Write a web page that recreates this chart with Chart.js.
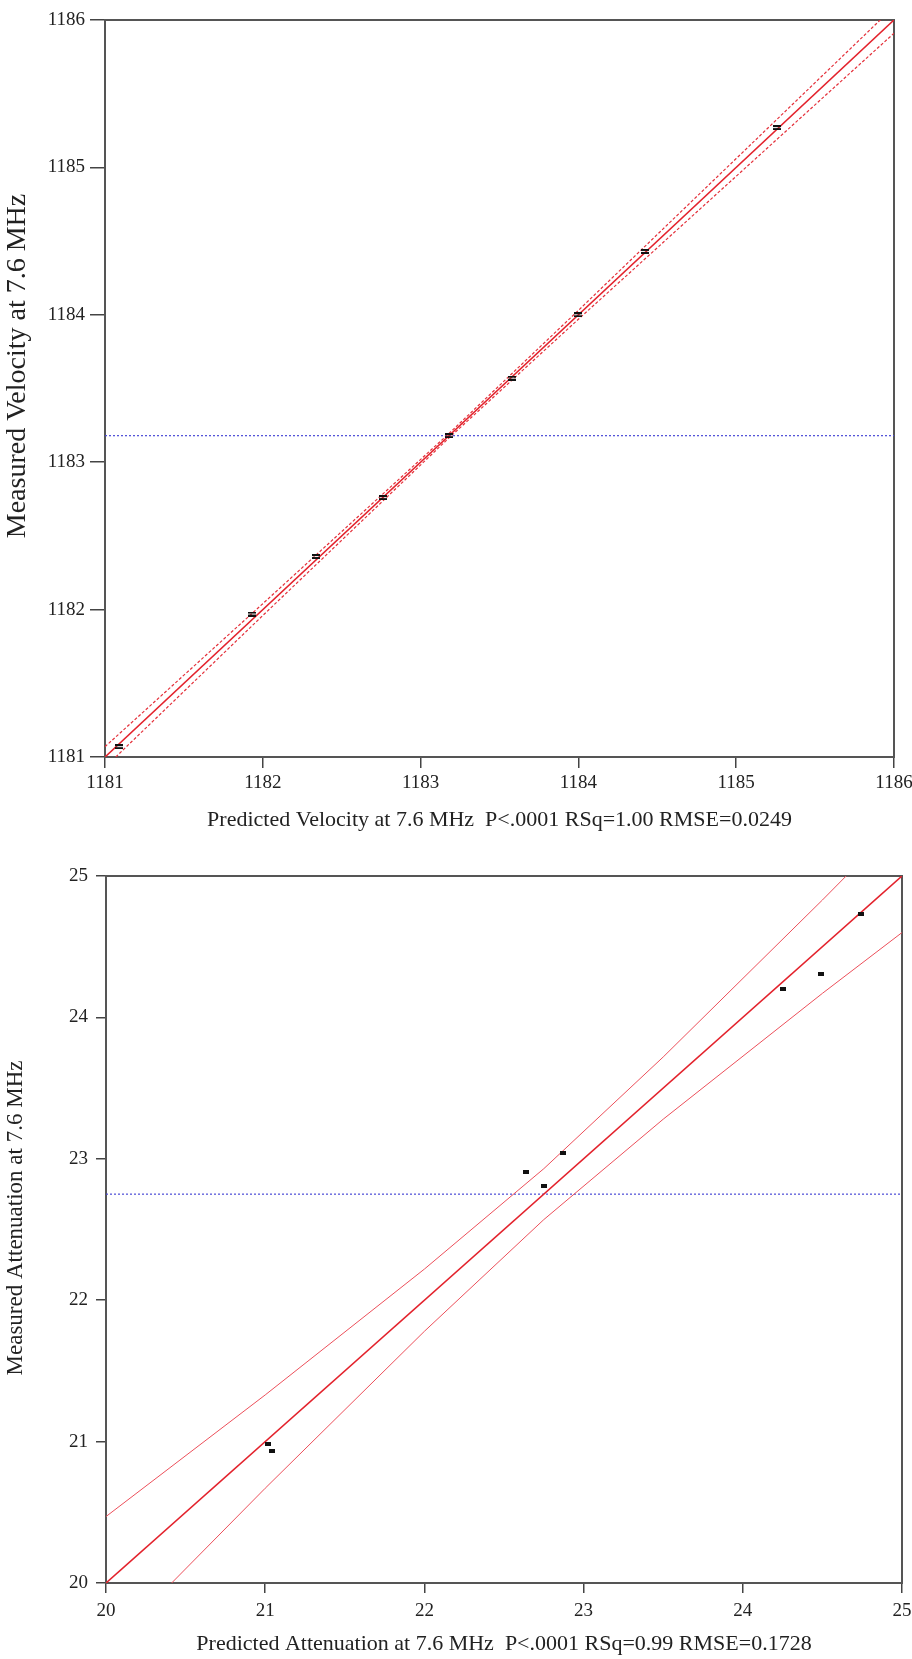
<!DOCTYPE html>
<html>
<head>
<meta charset="utf-8">
<script src="https://cdn.jsdelivr.net/npm/chart.js@4.4.1/dist/chart.umd.min.js"></script>
<style>
  html, body { margin: 0; padding: 0; background: #fff; }
  body { width: 912px; height: 1659px; overflow: hidden; position: relative; }
  .box { position: absolute; left: 0; width: 912px; }
  #velBox { top: 0; height: 845px; }
  #attBox { top: 845px; height: 814px; }
</style>
</head>
<body>
<div class="box" id="velBox"><canvas id="velocityChart"></canvas></div>
<div class="box" id="attBox"><canvas id="attenuationChart"></canvas></div>
<script>
// ---- top plot: velocity ----
const velTicks = [1181, 1182, 1183, 1184, 1185, 1186];
const velPredicted = [1181.09, 1181.93, 1182.34, 1182.76, 1183.18, 1183.58, 1184.00, 1184.42, 1185.26];
const velMeasured  = [1181.07, 1181.97, 1182.36, 1182.76, 1183.18, 1183.57, 1184.00, 1184.43, 1185.27];
const velFitX = [1181, 1186];
const velFitY = [1181, 1186];
const velBandX = [1181, 1182, 1183.18, 1184, 1185, 1186];
const velUpper = [1181.07, 1182.04, 1183.195, 1184.03, 1185.06, 1186.09];
const velLower = [1180.93, 1181.96, 1183.165, 1183.97, 1184.94, 1185.91];
const velMean = 1183.18;

// ---- bottom plot: attenuation ----
const attTicks = [20, 21, 22, 23, 24, 25];
const attPredicted = [21.02, 21.04, 22.64, 22.75, 22.87, 24.25, 24.49, 24.74];
const attMeasured  = [20.98, 20.93, 22.91, 22.81, 23.04, 24.20, 24.31, 24.73];
const attFitX = [20, 25];
const attFitY = [20, 25];
const attBandX = [20, 21, 22, 22.75, 23.5, 24.5, 25];
const attUpper = [20.47, 21.33, 22.22, 22.93, 23.72, 24.83, 25.40];
const attLower = [19.53, 20.67, 21.78, 22.57, 23.28, 24.17, 24.60];
const attMean = 22.75;

const SERIF = "'Liberation Serif', 'DejaVu Serif', serif";

Chart.defaults.font.family = SERIF;
Chart.defaults.font.size = 19;
Chart.defaults.color = '#222';

function pairs(xs, ys) {
  return xs.map((x, i) => ({ x: x, y: ys[i] }));
}

// little black marks used as point symbols
function markCanvas(w, h, doubleBar) {
  const c = document.createElement('canvas');
  c.width = w;
  c.height = h;
  const g = c.getContext('2d');
  g.fillStyle = '#111';
  if (doubleBar) {
    g.fillRect(0, 0, w, 2);
    g.fillRect(0, h - 2, w, 2);
  } else {
    g.fillRect(0, 0, w, h);
  }
  return c;
}

// box round the plot area
const framePlugin = {
  id: 'frame',
  beforeDatasetsDraw(chart) {
    const { ctx, chartArea: a } = chart;
    ctx.save();
    ctx.strokeStyle = '#555';
    ctx.lineWidth = 2;
    ctx.strokeRect(a.left, a.top, a.right - a.left, a.bottom - a.top);
    ctx.restore();
  }
};

// vertical axis title, drawn rotated at a chosen centre
const yTitlePlugin = {
  id: 'yTitle',
  afterDraw(chart, args, opts) {
    const ctx = chart.ctx;
    ctx.save();
    ctx.translate(opts.x, opts.y);
    ctx.rotate(-Math.PI / 2);
    ctx.font = opts.size + 'px ' + SERIF;
    ctx.fillStyle = '#222';
    ctx.textAlign = 'center';
    ctx.textBaseline = 'middle';
    ctx.fillText(opts.text, 0, 0);
    ctx.restore();
  }
};

function buildChart(canvasId, s) {
  const lo = s.ticks[0];
  const hi = s.ticks[s.ticks.length - 1];

  const datasets = [
    {
      label: 'points',
      data: pairs(s.predicted, s.measured),
      showLine: false,
      pointStyle: s.mark,
      pointRadius: 4
    },
    {
      label: 'fit',
      data: pairs(s.fitX, s.fitY),
      showLine: true,
      borderColor: '#e3222c',
      borderWidth: 1.6,
      pointRadius: 0
    },
    {
      label: 'upper',
      data: pairs(s.bandX, s.upper),
      showLine: true,
      borderColor: s.bandColor,
      borderWidth: s.bandWidth,
      borderDash: s.bandDash,
      pointRadius: 0
    },
    {
      label: 'lower',
      data: pairs(s.bandX, s.lower),
      showLine: true,
      borderColor: s.bandColor,
      borderWidth: s.bandWidth,
      borderDash: s.bandDash,
      pointRadius: 0
    },
    {
      label: 'mean',
      data: [{ x: lo, y: s.mean }, { x: hi, y: s.mean }],
      showLine: true,
      borderColor: '#4a4ad6',
      borderWidth: 1.2,
      borderDash: [2, 2],
      pointRadius: 0
    }
  ];

  const config = {
    type: 'scatter',
    data: { datasets: datasets },
    options: {
      responsive: true,
      maintainAspectRatio: false,
      animation: false,
      devicePixelRatio: 1,
      layout: { padding: s.padding },
      plugins: {
        legend: { display: false },
        tooltip: { enabled: false },
        yTitle: { text: s.yTitle, size: s.yTitleSize, x: s.yTitleX, y: s.yTitleY }
      },
      scales: {
        x: {
          type: 'linear',
          min: lo,
          max: hi,
          afterBuildTicks: scale => { scale.ticks = s.ticks.map(v => ({ value: v })); },
          afterFit: scale => {
            scale.height = s.xHeight;
            scale.paddingRight = s.xPadRight;
          },
          grid: {
            display: true,
            drawOnChartArea: false,
            drawTicks: true,
            tickLength: s.xTickLen,
            color: '#444',
            lineWidth: 1.5
          },
          border: { display: true, color: '#555', width: 2 },
          ticks: {
            color: '#222',
            padding: s.xTickPad,
            maxRotation: 0,
            font: { family: SERIF, size: 19 },
            callback: v => String(v)
          },
          title: {
            display: true,
            text: s.xTitle,
            color: '#222',
            padding: { top: 0, bottom: s.xTitlePad },
            font: { family: SERIF, size: 22 }
          }
        },
        y: {
          type: 'linear',
          min: lo,
          max: hi,
          afterBuildTicks: scale => { scale.ticks = s.ticks.map(v => ({ value: v })); },
          afterFit: scale => { scale.width = s.yWidth; },
          grid: {
            display: true,
            drawOnChartArea: false,
            drawTicks: true,
            tickLength: s.yTickLen,
            color: '#444',
            lineWidth: 1.5
          },
          border: { display: true, color: '#555', width: 2 },
          ticks: {
            color: '#222',
            padding: s.yTickPad,
            font: { family: SERIF, size: 19 },
            callback: v => String(v)
          },
          title: { display: false }
        }
      }
    },
    plugins: [framePlugin, yTitlePlugin]
  };

  return new Chart(document.getElementById(canvasId), config);
}

document.addEventListener('DOMContentLoaded', () => {
  try {
    buildChart('velocityChart', {
      ticks: velTicks,
      predicted: velPredicted,
      measured: velMeasured,
      fitX: velFitX,
      fitY: velFitY,
      bandX: velBandX,
      upper: velUpper,
      lower: velLower,
      mean: velMean,
      mark: markCanvas(8, 5, true),
      bandColor: '#e4303a',
      bandWidth: 1.2,
      bandDash: [3, 2],
      padding: { top: 20, right: 14, bottom: 0, left: 0 },
      xHeight: 88,
      xPadRight: 18,
      yWidth: 105,
      xTickLen: 11,
      yTickLen: 15,
      xTickPad: 4,
      yTickPad: 5,
      xTitlePad: 12,
      xTitle: 'Predicted Velocity at 7.6 MHz  P<.0001 RSq=1.00 RMSE=0.0249',
      yTitle: 'Measured Velocity at 7.6 MHz',
      yTitleSize: 28,
      yTitleX: 18,
      yTitleY: 366
    });

    buildChart('attenuationChart', {
      ticks: attTicks,
      predicted: attPredicted,
      measured: attMeasured,
      fitX: attFitX,
      fitY: attFitY,
      bandX: attBandX,
      upper: attUpper,
      lower: attLower,
      mean: attMean,
      mark: markCanvas(6, 4, false),
      bandColor: '#ec4f5a',
      bandWidth: 1,
      bandDash: [],
      padding: { top: 31, right: 10, bottom: 0, left: 0 },
      xHeight: 76,
      xPadRight: 10,
      yWidth: 106,
      xTickLen: 10,
      yTickLen: 10,
      xTickPad: 7,
      yTickPad: 8,
      xTitlePad: 2,
      xTitle: 'Predicted Attenuation at 7.6 MHz  P<.0001 RSq=0.99 RMSE=0.1728',
      yTitle: 'Measured Attenuation at 7.6 MHz',
      yTitleSize: 23,
      yTitleX: 16,
      yTitleY: 373
    });
  } catch (error) {
    console.error('Failed to render charts:', error);
  }
});
</script>
</body>
</html>
